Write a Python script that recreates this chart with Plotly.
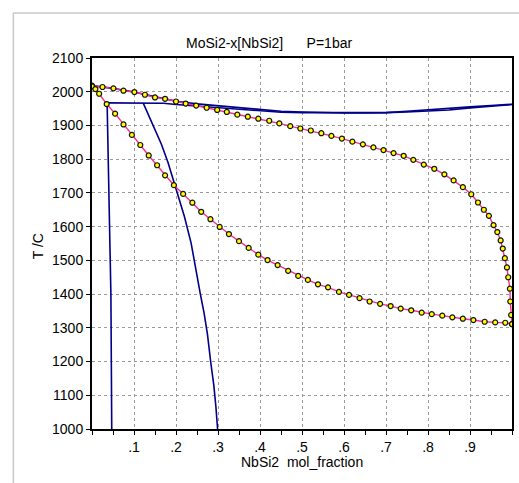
import plotly.graph_objects as go

# ---- data ----
upper_x = [0.0, 0.025, 0.051, 0.075, 0.101, 0.126, 0.150, 0.174, 0.200, 0.223, 0.248, 0.273, 0.298,
           0.321, 0.346, 0.371, 0.396, 0.422, 0.446, 0.472, 0.496, 0.521, 0.546, 0.570, 0.595,
           0.620, 0.645, 0.670, 0.694, 0.718, 0.742, 0.765, 0.790, 0.815, 0.839, 0.861, 0.883,
           0.903, 0.919, 0.933, 0.945, 0.956, 0.965, 0.973, 0.978, 0.983, 0.988, 0.991, 0.995,
           0.996, 0.998, 1.0]
upper_T = [2018, 2014, 2010, 2003, 1999, 1991, 1983, 1979, 1971, 1965, 1959, 1952.5, 1946,
           1940, 1932, 1926, 1920, 1914, 1906, 1898, 1891, 1885, 1877, 1869, 1861,
           1852, 1844, 1835, 1827, 1818, 1810, 1798, 1784, 1771.5, 1755, 1737, 1717,
           1696, 1671.5, 1650, 1632, 1604.5, 1584, 1559, 1535, 1506.5, 1479, 1450, 1416,
           1378, 1338, 1311]

lower_x = [0.0, 0.008, 0.017, 0.035, 0.055, 0.075, 0.095, 0.115, 0.135, 0.155, 0.174, 0.195,
           0.217, 0.239, 0.260, 0.282, 0.304, 0.326, 0.350, 0.373, 0.396, 0.418, 0.442, 0.467,
           0.491, 0.514, 0.538, 0.562, 0.588, 0.612, 0.637, 0.661, 0.686, 0.711, 0.735, 0.760,
           0.785, 0.809, 0.834, 0.858, 0.883, 0.908, 0.935, 0.960, 0.984, 1.0]
lower_T = [2016, 2008, 1994, 1963.5, 1935, 1903, 1872, 1842, 1811, 1782, 1752, 1723,
           1697, 1671, 1644, 1622, 1599, 1578, 1557, 1537, 1517, 1501, 1486, 1469,
           1454, 1442, 1429, 1420, 1406.5, 1397.6, 1388, 1378, 1371, 1364.5, 1357, 1352,
           1345, 1340.5, 1336, 1331, 1327, 1323, 1318, 1316, 1315, 1311]

blueA_x = [0.0, 0.05, 0.1, 0.15, 0.2, 0.25, 0.3, 0.35, 0.4, 0.45, 0.5, 0.55, 0.6, 0.65, 0.7,
           0.75, 0.8, 0.85, 0.9, 0.95, 1.0]
blueA_T = [2018, 2010, 1999, 1985, 1972, 1964, 1958, 1952, 1946, 1942, 1940, 1938, 1937, 1937,
           1938, 1942, 1947, 1951, 1955, 1959, 1963]

blueB_x = [0.036, 0.122, 0.17, 0.2, 0.25, 0.3, 0.35, 0.4, 0.45, 0.5, 0.6, 0.7, 0.75, 0.8,
           0.85, 0.9, 0.95, 1.0]
blueB_T = [1967, 1967, 1966, 1962, 1957, 1953, 1947, 1942, 1939, 1938, 1937, 1938, 1940, 1942,
           1946, 1952, 1957, 1962]

blueV_x = [0.036, 0.037, 0.039, 0.041, 0.043, 0.045, 0.046, 0.047]
blueV_T = [1967, 1900, 1800, 1700, 1600, 1400, 1200, 1000]

blueC_x = [0.122, 0.135, 0.150, 0.165, 0.181, 0.200, 0.220, 0.236, 0.248, 0.258, 0.267, 0.275,
           0.283, 0.290, 0.295, 0.299]
blueC_T = [1966, 1930, 1890, 1845, 1790, 1714, 1630, 1551, 1462, 1400, 1343, 1280,
           1195, 1130, 1066, 1000]

x_tickvals = [0.1, 0.2, 0.3, 0.4, 0.5, 0.6, 0.7, 0.8, 0.9]
x_ticktext = [".1", ".2", ".3", ".4", ".5", ".6", ".7", ".8", ".9"]
y_tickvals = list(range(1000, 2101, 100))

NB = "\u00a0"
title_text = "MoSi2-x[NbSi2]" + NB * 6 + "P=1bar"
xlabel = "NbSi2" + NB * 2 + "mol_fraction"
ylabel = "T /C"

# ---- figure ----
PINK = "#FF2A8C"
NAVY = "#000088"
FONT = "Liberation Sans, Arial, sans-serif"

fig = go.Figure()
for bx, bt in [(blueA_x, blueA_T), (blueB_x, blueB_T), (blueV_x, blueV_T), (blueC_x, blueC_T)]:
    fig.add_trace(go.Scatter(x=bx, y=bt, mode="lines",
                             line=dict(color=NAVY, width=1.6), hoverinfo="skip"))
for px_, pt in [(upper_x, upper_T), (lower_x, lower_T)]:
    fig.add_trace(go.Scatter(x=px_, y=pt, mode="lines+markers",
                             line=dict(color=PINK, width=1.4),
                             marker=dict(size=5, color="#FFFF00",
                                         line=dict(color="#111111", width=1.2))))

W, H = 519, 483
L, R, T, B = 92, 5, 58, 54
pw, ph = W - L - R, H - T - B

def pxx(px):
    return (px - L) / pw

def pxy(py):
    return (H - B - py) / ph

fig.update_layout(
    width=W, height=H,
    margin=dict(l=L, r=R, t=T, b=B, pad=0),
    paper_bgcolor="white", plot_bgcolor="white",
    showlegend=False,
    font=dict(family=FONT, size=14, color="#000000"),
    xaxis=dict(range=[0, 1], tickmode="array", tickvals=x_tickvals, ticktext=x_ticktext,
               ticks="outside", ticklen=4, tickcolor="#000000", tickwidth=1,
               minor=dict(dtick=0.05, tick0=0, ticks="outside", ticklen=4, tickcolor="#000000",
                          showgrid=False),
               showgrid=True, gridcolor="#9A9A9A", griddash="dot", gridwidth=1,
               showline=True, linecolor="#000000", linewidth=2, mirror=True,
               zeroline=False, tickfont=dict(size=14, family=FONT)),
    yaxis=dict(range=[1000, 2100], tickmode="array", tickvals=y_tickvals,
               ticks="outside", ticklen=4, tickcolor="#000000", tickwidth=1,
               showgrid=True, gridcolor="#9A9A9A", griddash="dot", gridwidth=1,
               showline=True, linecolor="#000000", linewidth=2, mirror=True,
               zeroline=False, tickfont=dict(size=14, family=FONT)),
)

fig.add_annotation(text=title_text, x=pxx(270), y=pxy(43), xref="paper", yref="paper",
                   showarrow=False, font=dict(size=14, family=FONT), xanchor="center", yanchor="middle")
fig.add_annotation(text=xlabel, x=pxx(303), y=pxy(462), xref="paper", yref="paper",
                   showarrow=False, font=dict(size=14, family=FONT), xanchor="center", yanchor="middle")
fig.add_annotation(text=ylabel, x=pxx(38), y=pxy(246), xref="paper", yref="paper",
                   showarrow=False, textangle=-90, font=dict(size=14, family=FONT),
                   xanchor="center", yanchor="middle")

# light outer frame
fig.add_shape(type="line", xref="paper", yref="paper", x0=pxx(13), x1=pxx(13),
              y0=pxy(13), y1=pxy(H + 5), line=dict(color="#C8C8C8", width=1.5))
fig.add_shape(type="line", xref="paper", yref="paper", x0=pxx(13), x1=pxx(W + 5),
              y0=pxy(13), y1=pxy(13), line=dict(color="#C8C8C8", width=1.5))

fig.write_html("out.html")
